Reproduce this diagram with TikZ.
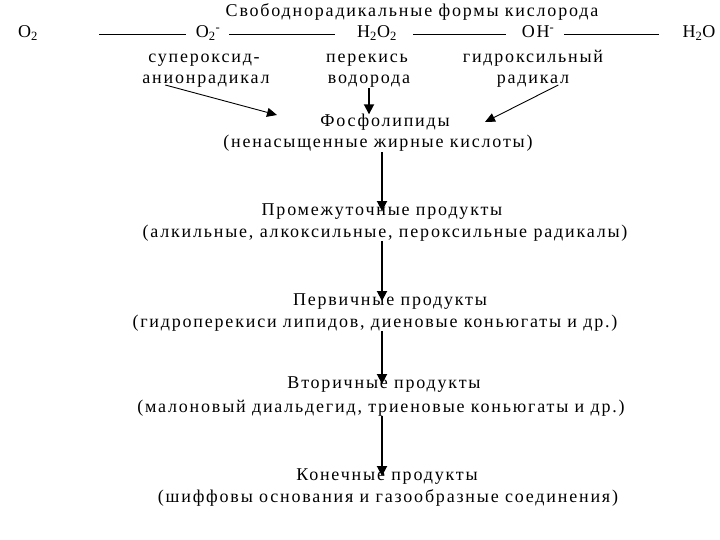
\documentclass[tikz,border=0pt]{standalone}
\usepackage{fontspec}
\setmainfont{Liberation Serif}[LetterSpace=10]
\usetikzlibrary{arrows.meta,positioning}

\begin{document}
\begin{tikzpicture}[x=1pt, y=-1pt,
  txt/.style={inner sep=0pt, anchor=base, font=\fontsize{18}{20}\selectfont},
  ar/.style={-{Triangle[length=10pt, width=10pt]}, line width=1.8pt},
  thinar/.style={-{Triangle[length=10pt, width=9pt]}, line width=0.9pt},
  bond/.style={line width=0.9pt}
]
\useasboundingbox (0,0) rectangle (720,540);

  % free radical forms of oxygen
  \node[txt] (title) at (412,17) {Свободнорадикальные формы кислорода};
  \node[txt] (o2)   at (28,38)  {O\textsubscript{2}};
  \node[txt] (o2m)  at (208,38) {O\textsubscript{2}\textsuperscript{-}};
  \node[txt] (h2o2) at (377,38) {H\textsubscript{2}O\textsubscript{2}};
  \node[txt] (oh)   at (538,38) {OH\textsuperscript{-}};
  \node[txt] (h2o)  at (699,38) {H\textsubscript{2}O};

  \draw[bond, shorten <=61pt, shorten >=10pt] ([yshift=4pt]o2.base east) -- ([yshift=4pt]o2m.base west);
  \draw[bond, shorten <=9pt, shorten >=22pt] ([yshift=4pt]o2m.base east) -- ([yshift=4pt]h2o2.base west);
  \draw[bond, shorten <=16pt, shorten >=16pt] ([yshift=4pt]h2o2.base east) -- ([yshift=4pt]oh.base west);
  \draw[bond, shorten <=10pt, shorten >=23pt] ([yshift=4pt]oh.base east) -- ([yshift=4pt]h2o.base west);

  \node[txt] (superox) at (204,63) {супероксид-};
  \node[txt] (anion)   at (206,84) {анионрадикал};
  \node[txt] (perek)   at (367,63) {перекись};
  \node[txt] (vodor)   at (369,84) {водорода};
  \node[txt] (gidrox)  at (533,63) {гидроксильный};
  \node[txt] (radik)   at (533,84) {радикал};

  % lipid peroxidation chain
  \node[txt] (fosf)  at (385,127) {Фосфолипиды};
  \node[txt] (fosfx) at (378,148) {(ненасыщенные жирные кислоты)};
  \node[txt] (prom)  at (382,215) {Промежуточные продукты};
  \node[txt] (promx) at (385,237) {(алкильные, алкоксильные, пероксильные радикалы)};
  \node[txt] (perv)  at (390,305) {Первичные продукты};
  \node[txt] (pervx) at (375,327) {(гидроперекиси липидов, диеновые коньюгаты и др.)};
  \node[txt] (vtor)  at (384,388) {Вторичные продукты};
  \node[txt] (vtorx) at (381,412) {(малоновый диальдегид, триеновые коньюгаты и др.)};
  \node[txt] (kon)   at (387,480) {Конечные продукты};
  \node[txt] (konx)  at (388,502) {(шиффовы основания и газообразные соединения)};

  \coordinate (axis) at (382,0);
  \coordinate (tipl) at (277,115);
  \coordinate (tipr) at (485,122);

  \draw[thinar] ([xshift=23pt,yshift=-1pt]anion.base west) -- (tipl);
  \draw[ar] (vodor.south) -- (vodor.south |- fosf.north);
  \draw[thinar] ([xshift=-11pt,yshift=-1pt]radik.base east) -- (tipr);

  \draw[ar] (axis |- fosfx.south) -- (axis |- prom.center);
  \draw[ar] (axis |- promx.south) -- (axis |- perv.center);
  \draw[ar] (axis |- pervx.south) -- (axis |- vtor.center);
  \draw[ar] (axis |- vtorx.south) -- (axis |- kon.center);

\end{tikzpicture}
\end{document}
